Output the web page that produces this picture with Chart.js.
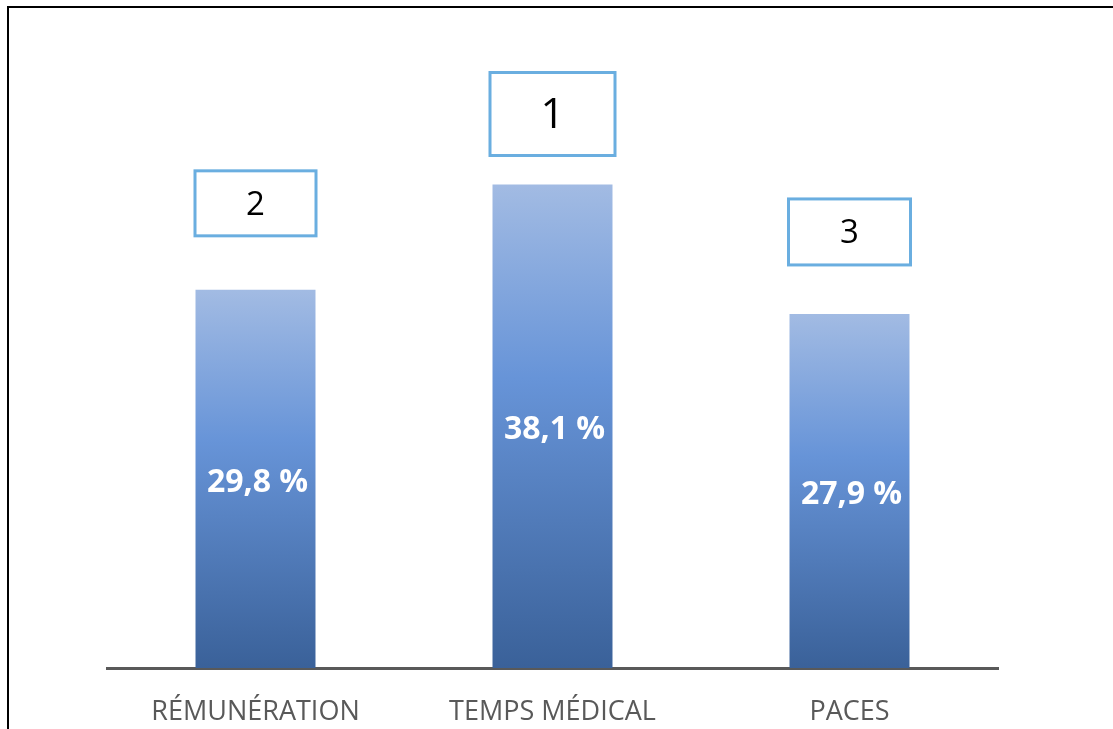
<!DOCTYPE html>
<html>
<head>
<meta charset="utf-8">
<script src="https://cdn.jsdelivr.net/npm/chart.js@4"></script>
<style>
    body { margin: 0; background: #fff; }
    #wrap { position: relative; width: 1113px; height: 729px; overflow: hidden; }
    #frame { position: absolute; left: 7px; top: 6px; right: -10px; bottom: -10px;
             border-left: 2px solid #000; border-top: 2px solid #000; pointer-events: none; }
    canvas { position: absolute; left: 0; top: 0; }
</style>
</head>
<body>
<div id="wrap">
    <canvas id="myChart" width="1113" height="729"></canvas>
    <div id="frame"></div>
</div>
<script>
const categories = ['RÉMUNÉRATION', 'TEMPS MÉDICAL', 'PACES'];
const percentValues = [29.8, 38.1, 27.9];
const ranks = ['2', '1', '3'];

// rank box look: [gap above bar, box height, box width, font size]
const rankBoxStyle = {
    '1': { gap: 29, h: 83, w: 125, font: 42 },
    '2': { gap: 54, h: 65, w: 121, font: 33 },
    '3': { gap: 49, h: 66, w: 122, font: 33 }
};

function barGradient(context) {
    const chart = context.chart;
    const area = chart.chartArea;
    if (!area) return '#6792d8';
    const top = chart.scales.y.getPixelForValue(context.raw);
    const g = chart.ctx.createLinearGradient(0, top, 0, area.bottom);
    g.addColorStop(0, '#a2bbe3');
    g.addColorStop(0.4, '#6794d8');
    g.addColorStop(1, '#3a6199');
    return g;
}

const labelsPlugin = {
    id: 'labelsPlugin',
    afterDatasetsDraw(chart) {
        const ctx = chart.ctx;
        const meta = chart.getDatasetMeta(0);
        ctx.save();
        meta.data.forEach((bar, i) => {
            // value inside bar
            ctx.fillStyle = '#ffffff';
            ctx.font = 'bold 32px "Open Sans"';
            ctx.textAlign = 'center';
            ctx.textBaseline = 'middle';
            const mid = (bar.y + bar.base) / 2 + 4;
            ctx.fillText(percentValues[i].toFixed(1).replace('.', ',') + ' %', bar.x + 2, mid);

            // rank box above bar
            const s = rankBoxStyle[ranks[i]];
            const bottom = bar.y - s.gap;
            ctx.strokeStyle = '#6aaee0';
            ctx.lineWidth = 3;
            ctx.strokeRect(bar.x - s.w / 2, bottom - s.h, s.w, s.h);
            ctx.fillStyle = '#000000';
            ctx.font = s.font + 'px "Open Sans"';
            ctx.fillText(ranks[i], bar.x, bottom - s.h / 2 + 2);
        });
        ctx.restore();
    }
};

const ctx = document.getElementById('myChart').getContext('2d');
const myChart = new Chart(ctx, {
    type: 'bar',
    data: {
        labels: categories,
        datasets: [{
            label: 'Pourcentage',
            data: percentValues,
            backgroundColor: barGradient,
            borderWidth: 0,
            categoryPercentage: 1,
            barPercentage: 0.404
        }]
    },
    options: {
        responsive: false,
        animation: false,
        devicePixelRatio: 1,
        layout: { padding: { left: 107, right: 115, top: 33.5, bottom: 0 } },
        plugins: { legend: { display: false }, tooltip: { enabled: false } },
        scales: {
            x: {
                grid: { display: false, drawTicks: false },
                border: { display: true, color: '#595959', width: 3 },
                ticks: {
                    color: '#595959',
                    padding: 28,
                    font: { family: '"Open Sans"', size: 27 }
                },
                afterFit(scale) { scale.height = 61; }
            },
            y: {
                display: false,
                min: 0,
                max: 50
            }
        }
    },
    plugins: [labelsPlugin]
});
</script>
</body>
</html>
